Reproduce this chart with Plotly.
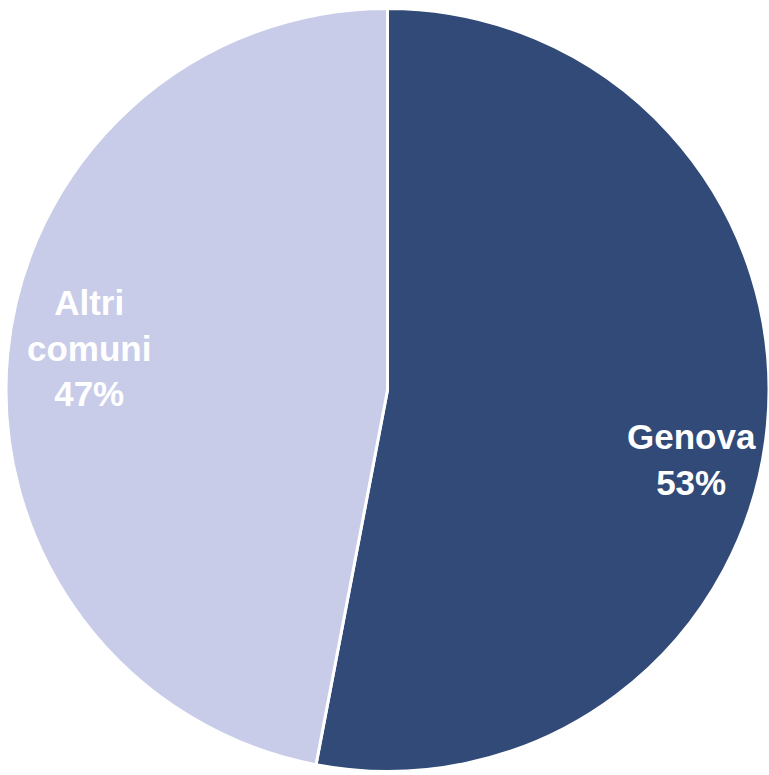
import plotly.graph_objects as go

# Share of the total by area
labels = ["Genova", "Altri comuni"]
label_lines = ["Genova", "Altri<br>comuni"]
values = [53, 47]
colors = ["#314A77", "#C8CCE9"]

W, H = 769, 775

fig = go.Figure(
    go.Pie(
        labels=labels,
        values=values,
        sort=False,
        direction="clockwise",
        rotation=0,
        marker=dict(colors=colors, line=dict(color="white", width=3)),
        textinfo="none",
        hoverinfo="label+percent",
        domain=dict(x=[6 / W, 1.0], y=[0.0, 770 / H]),
    )
)

# Slice labels (name + share), placed inside each slice
label_pos = [(691, 460), (89, 348)]
total = sum(values)
for name, v, (px, py) in zip(label_lines, values, label_pos):
    fig.add_annotation(
        x=px / W,
        y=1 - py / H,
        xref="paper",
        yref="paper",
        text=f"<b>{name}<br>{round(100 * v / total)}%</b>",
        showarrow=False,
        font=dict(family="Liberation Sans, Arial, sans-serif", size=35, color="white"),
        align="center",
        xanchor="center",
        yanchor="middle",
    )

fig.update_layout(
    width=W,
    height=H,
    margin=dict(l=0, r=0, t=0, b=0),
    paper_bgcolor="white",
    showlegend=False,
)

fig.write_html("out.html")
